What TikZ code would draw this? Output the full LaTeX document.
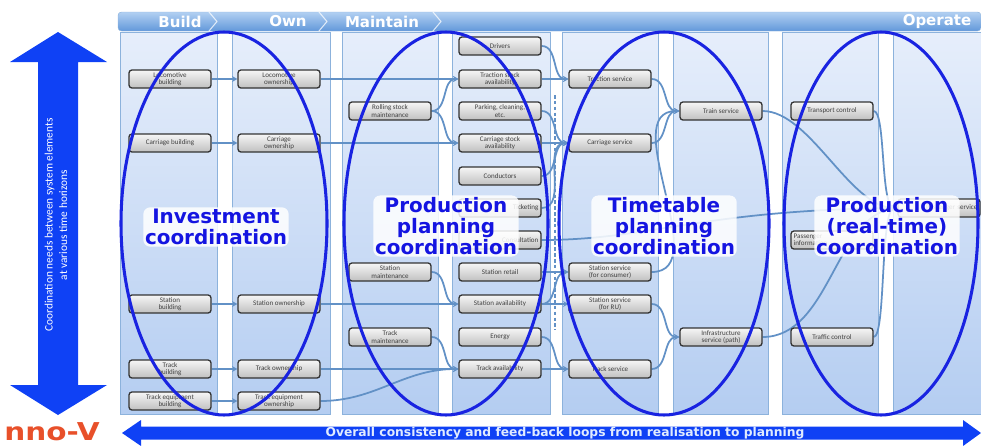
\documentclass[tikz,border=0pt]{standalone}
\usepackage{fontspec}
\setmainfont{Carlito}
\newfontfamily\lblfont{DejaVu Sans}
\usetikzlibrary{arrows.meta}
\pgfdeclarelayer{back}
\pgfdeclarelayer{conns}
\pgfsetlayers{back,conns,main}
\definecolor{ellc}{RGB}{25,35,225}
\definecolor{arrc}{RGB}{15,65,245}
\definecolor{lblc}{RGB}{20,20,225}
\definecolor{connc}{RGB}{98,145,198}
\definecolor{colborder}{RGB}{140,178,220}
\definecolor{coltop}{RGB}{230,238,251}
\definecolor{colbot}{RGB}{180,205,241}
\definecolor{hdrtop}{RGB}{178,208,242}
\definecolor{hdrbot}{RGB}{98,152,218}
\definecolor{boxtop}{RGB}{246,246,246}
\definecolor{boxbot}{RGB}{192,192,192}
\definecolor{logoc}{RGB}{232,80,42}
\definecolor{btxt}{RGB}{225,235,255}
\begin{document}
\begin{tikzpicture}[x=0.03cm,y=-0.03cm,
 colpanel/.style={draw=colborder, line width=0.8pt, top color=coltop, bottom color=colbot},
 sysbox/.style={draw=black!80, line width=1.1pt, rounded corners=2.5pt, top color=boxtop, bottom color=boxbot, minimum width=2.46cm, minimum height=0.54cm, inner sep=0pt, align=center, font=\fontsize{6}{6.4}\selectfont, text=black!75},
 conn/.style={draw=connc, line width=1.5pt, -{Stealth[length=4.5pt,width=5pt]}},
 coordell/.style={draw=ellc, line width=2.6pt},
 coordlbl/.style={fill=white, fill opacity=0.85, text opacity=1, text=lblc, rounded corners=6pt, align=center, inner sep=1.5pt, font=\lblfont\bfseries\fontsize{17}{18}\selectfont},
 hdrtext/.style={text=white, font=\lblfont\bfseries\fontsize{12.8}{13}\selectfont, inner sep=0pt},
]
\useasboundingbox (0,0) rectangle (981,445);
\begin{pgfonlayer}{back}
% column panels
\foreach \xa/\xb in {120/217, 232/330, 342/438, 452/550, 562/658, 673/768, 782/878, 893/981}
  \path[colpanel] (\xa,32) rectangle (\xb,414);
% header bar
\path[top color=hdrtop, bottom color=hdrbot, draw=colborder, rounded corners=3pt] (118,12) rectangle (981,31);
\foreach \x in {216, 326, 440}
  \draw[white, opacity=0.75, line width=0.9pt] (\x-7,12) -- (\x+1,21.5) -- (\x-7,31);
\end{pgfonlayer}
\node[hdrtext] (hbuild) at (180,21.5) {Build};
\node[hdrtext] (hown) at (288,21.5) {Own};
\node[hdrtext] (hmaint) at (382,21.5) {Maintain};
\node[hdrtext] (hoper) at (937,21.5) {Operate};

% boxes
\node[sysbox] (lb) at (170,79) {Locomotive\\building};
\node[sysbox] (cb) at (170,143) {Carriage building};
\node[sysbox] (sb) at (170,304) {Station\\building};
\node[sysbox] (tb) at (170,369) {Track\\building};
\node[sysbox] (teb) at (170,401) {Track equipment\\building};
\node[sysbox] (lo) at (279,79) {Locomotive\\ownership};
\node[sysbox] (co) at (279,143) {Carriage\\ownership};
\node[sysbox] (so) at (279,304) {Station ownership};
\node[sysbox] (to) at (279,369) {Track ownership};
\node[sysbox] (teo) at (279,401) {Track equipment\\ownership};
\node[sysbox] (rsm) at (390,111) {Rolling stock\\maintenance};
\node[sysbox] (sm) at (390,272) {Station\\maintenance};
\node[sysbox] (tm) at (390,337) {Track\\maintenance};
\node[sysbox] (dr) at (500,46) {Drivers};
\node[sysbox] (tsa) at (500,79) {Traction stock\\availability};
\node[sysbox] (pc) at (500,111) {Parking, cleaning,\\etc.};
\node[sysbox] (csa) at (500,143) {Carriage stock\\availability};
\node[sysbox] (cond) at (500,176) {Conductors};
\node[sysbox, text width=2.3cm, align=right] (tick) at (500,208) {Ticketing};
\node[sysbox, text width=2.3cm, align=right] (cons) at (500,240) {Consultation};
\node[sysbox] (sr) at (500,272) {Station retail};
\node[sysbox] (sa) at (500,304) {Station availability};
\node[sysbox] (en) at (500,337) {Energy};
\node[sysbox] (ta) at (500,369) {Track availability};
\node[sysbox] (trs) at (610,79) {Traction service};
\node[sysbox] (cs) at (610,143) {Carriage service};
\node[sysbox] (ssc) at (610,272) {Station service\\(for consumer)};
\node[sysbox] (ssr) at (610,304) {Station service\\(for RU)};
\node[sysbox] (tks) at (610,369) {Track service};
\node[sysbox] (ts) at (721,111) {Train service};
\node[sysbox] (is) at (721,337) {Infrastructure\\service (path)};
\node[sysbox] (tc) at (832,111) {Transport control};
\node[sysbox, text width=2.3cm, align=left] (pi) at (832,240) {Passenger\\information};
\node[sysbox] (trc) at (832,337) {Traffic control};
\node[sysbox, text width=2.3cm, align=right] (ps) at (939,208) {Passenger service};

% connectors
\begin{pgfonlayer}{conns}
\coordinate (dtop) at (555,95);
\coordinate (dbot) at (555,330);
\draw[connc, line width=1.2pt, dash pattern=on 3pt off 2pt] (dtop) -- (dbot);
\draw[conn] (lb) -- (lo);
\draw[conn] (cb) -- (co);
\draw[conn] (sb) -- (so);
\draw[conn] (tb) -- (to);
\draw[conn] (teb) -- (teo);
\draw[conn] (lo) -- (tsa);
\draw[conn] (co) -- (csa);
\draw[conn] (so) -- (sa);
\draw[conn] (to) -- (ta);
\draw[conn] (teo.east) to[out=0,in=180] (ta.west);
\draw[conn] (rsm.east) to[out=0,in=180] (tsa.west);
\draw[conn] (rsm.east) to[out=0,in=180] (csa.west);
\draw[conn] (sm.east) to[out=0,in=180] (sa.west);
\draw[conn] (tm.east) to[out=0,in=180] (ta.west);
\draw[conn] (tsa) -- (trs);
\draw[conn] (dr.east) to[out=0,in=180] (trs.west);
\draw[conn] (pc.east) to[out=0,in=180] (cs.west);
\draw[conn] (csa) -- (cs);
\draw[conn] (cond.east) to[out=0,in=180] (cs.west);
\draw[conn] (tick.east) to[out=0,in=180] (cs.west);
\draw[conn] (sr) -- (ssc);
\draw[conn] (sa) -- (ssr);
\draw[conn] (sa.east) to[out=0,in=180] (ssc.west);
\draw[conn] (en.east) to[out=0,in=180] (tks.west);
\draw[conn] (ta) -- (tks);
\draw[conn] (trs.east) to[out=0,in=180] (ts.west);
\draw[conn] (cs.east) to[out=0,in=180] (ts.west);
\draw[conn] (ssc.east) to[out=0,in=180] (ts.west);
\draw[conn] (ssr.east) to[out=0,in=180] (is.west);
\draw[conn] (tks.east) to[out=0,in=180] (is.west);
\draw[conn] (ts.east) .. controls (810,111) and (850,208) .. (ps.west);
\draw[conn] (is.east) .. controls (830,337) and (835,215) .. (ps.west);
\draw[conn] (tc.east) .. controls (886,111) and (880,208) .. (ps.west);
\draw[conn] (trc.east) .. controls (886,337) and (880,208) .. (ps.west);
\draw[conn] (cons.east) .. controls (650,240) and (700,210) .. (ps.west);
\end{pgfonlayer}

% coordination ellipses
\draw[coordell] (224,223.5) ellipse [x radius=103, y radius=191.5];
\draw[coordell] (446,223.5) ellipse [x radius=102, y radius=191.5];
\draw[coordell] (664,223.5) ellipse [x radius=105, y radius=191.5];
\draw[coordell] (881,223.5) ellipse [x radius=97, y radius=191.5];

% labels
\node[coordlbl] (l1) at (216,227) {Investment\\coordination};
\node[coordlbl] (l2) at (446,226) {Production\\planning\\coordination};
\node[coordlbl] (l3) at (664,226) {Timetable\\planning\\coordination};
\node[coordlbl] (l4) at (887,226) {Production\\(real-time)\\coordination};

% left vertical arrow
\fill[arrc] (58,32) -- (107,62) -- (78,62) -- (78,385) -- (107,385) -- (58,415) -- (10,385) -- (38,385) -- (38,62) -- (10,62) -- cycle;
\node[rotate=90, text=white, align=center, font=\fontsize{9.7}{12.5}\selectfont] (vtxt) at (56,225) {Coordination needs between system elements\\at various time horizons};

% bottom horizontal arrow
\fill[arrc] (122,433) -- (141,420) -- (141,426.5) -- (963,426.5) -- (963,420) -- (981,433) -- (963,446) -- (963,439.5) -- (141,439.5) -- (141,446) -- cycle;
\node[text=btxt, font=\lblfont\bfseries\fontsize{10.5}{11}\selectfont, inner sep=0pt] (htxt) at (565,433) {Overall consistency and feed-back loops from realisation to planning};

% logo
\node[text=logoc, font=\lblfont\bfseries\fontsize{21}{21}\selectfont, inner sep=0pt] (logo) at (52,432) {\scalebox{1.2}[1]{nno-V}};
\end{tikzpicture}
\end{document}
